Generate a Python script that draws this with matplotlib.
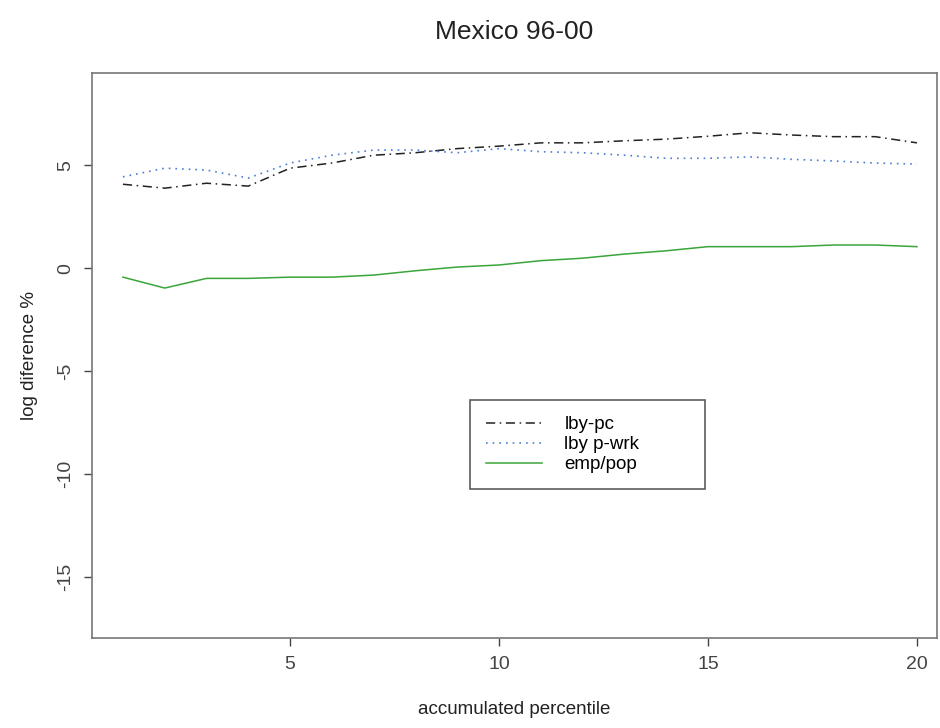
import matplotlib
matplotlib.use('Agg')
import matplotlib.pyplot as plt

plt.rcParams['font.family'] = ['Liberation Sans', 'DejaVu Sans']
plt.rcParams['axes.unicode_minus'] = False

# accumulated percentile
pct = list(range(1, 21))

lby_pc = [4.07, 3.88, 4.12, 3.98, 4.85, 5.10, 5.48, 5.60, 5.80, 5.92,
          6.08, 6.08, 6.18, 6.26, 6.40, 6.57, 6.46, 6.38, 6.38, 6.08]
lby_pwrk = [4.43, 4.85, 4.76, 4.37, 5.10, 5.48, 5.73, 5.73, 5.60, 5.80,
            5.65, 5.60, 5.48, 5.33, 5.33, 5.40, 5.28, 5.20, 5.10, 5.05]
emp_pop = [-0.44, -0.97, -0.50, -0.50, -0.44, -0.44, -0.34, -0.13, 0.05, 0.15,
           0.36, 0.48, 0.68, 0.84, 1.04, 1.04, 1.04, 1.12, 1.12, 1.04]

fig = plt.figure(figsize=(9.4, 7.28), dpi=100)
ax = fig.add_axes([0.0979, 0.1236, 0.8989, 0.7761])

ax.plot(pct, lby_pc, color='#222222', linestyle=(0, (6, 3, 1, 3)), linewidth=1.1, label='lby-pc')
ax.plot(pct, lby_pwrk, color='#4a7fd4', linestyle=(0, (1, 3)), linewidth=1.2, label='lby p-wrk')
ax.plot(pct, emp_pop, color='#3aa53a', linestyle='-', linewidth=1.1, label='emp/pop')

ax.set_xlim(0.26, 20.48)
ax.set_ylim(-17.96, 9.47)
ax.set_xticks([5, 10, 15, 20])
ax.set_yticks([-15, -10, -5, 0, 5])

for s in ax.spines.values():
    s.set_color('#777777')
    s.set_linewidth(1.2)
ax.tick_params(direction='out', length=6, width=1, colors='#444444', labelsize=14, pad=7)
plt.setp(ax.get_yticklabels(), rotation=90, va='center')

ax.set_xlabel('accumulated percentile', fontsize=13.5, color='#222222', labelpad=20)
ax.set_ylabel('log diference %', fontsize=13.5, color='#222222', labelpad=14)
fig.suptitle('Mexico 96-00', x=0.547, y=0.972, fontsize=19, color='#222222')

# legend box: ~235 x 92 px in the reference
leg = ax.legend(loc='upper left', bbox_to_anchor=(0.447, 0.258, 0.278, 0.163), mode='expand',
                fontsize=13.5, frameon=True, fancybox=False, handlelength=3.0,
                borderpad=0.85, labelspacing=0.15, handletextpad=1.2, borderaxespad=0)
leg.get_frame().set_edgecolor('#333333')
leg.get_frame().set_linewidth(1.2)

fig.savefig('out.png', dpi=100)
